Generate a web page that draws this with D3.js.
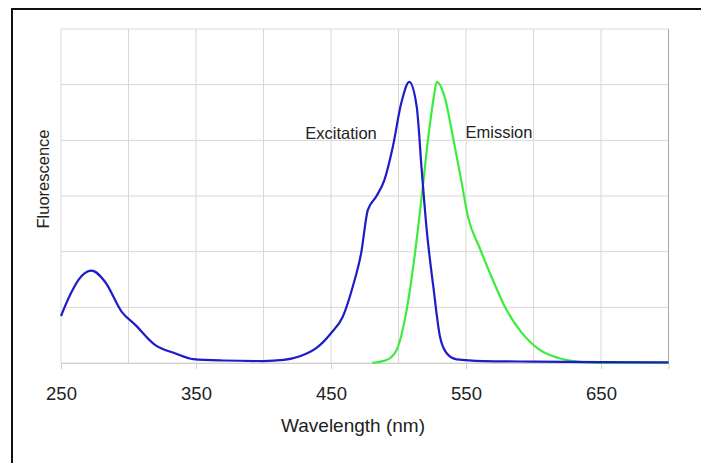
<!DOCTYPE html>
<html>
<head>
<meta charset="utf-8">
<script src="https://cdn.jsdelivr.net/npm/d3@7"></script>
<style>
  body { margin: 0; background: #fff; }
  text { font-family: "Liberation Sans", Arial, sans-serif; fill: #222; }
</style>
</head>
<body>
<div id="chart"></div>
<script>
// excitation spectrum (wavelength in nm, relative fluorescence)
var excitation_wl = [250, 256.7, 262.8, 272.7, 282.6, 295, 305, 319.6, 334.4, 348, 370, 400, 415, 427, 439, 450, 458.7, 466.1, 472.3, 477.3, 483.5, 489.6, 495.8, 502, 508, 513.5, 517.2, 520.9, 525.8, 530.7, 535.7, 543.1, 562.6, 600, 650, 700];
var excitation_val = [16.9, 24.4, 29.8, 33.2, 29.2, 18.4, 13.7, 6.5, 3.5, 1.4, 0.9, 0.7, 1.1, 2.4, 5.3, 10.7, 16.6, 27.4, 39.4, 55, 59.8, 65.8, 77.7, 93.3, 101, 92, 69.3, 47.8, 27.4, 9.5, 3.5, 1.3, 0.7, 0.5, 0.3, 0.2];

// emission spectrum
var emission_wl = [480.5, 491.2, 498.6, 506, 512.2, 517.2, 522.1, 525.8, 528.4, 534.1, 540.3, 546.4, 551.5, 560, 569.9, 578.5, 590.8, 604.4, 619.3, 634.1, 646.4, 670, 700];
var emission_val = [0.1, 1.1, 4.7, 19, 39.4, 59.8, 81.3, 94.5, 101, 95.7, 81.3, 65.8, 52.5, 41.5, 29.8, 20.5, 11.2, 4.8, 1.7, 0.4, 0, 0, 0];

var x_ticks = [250, 350, 450, 550, 650];

var width = 701,
    height = 463;

var plot = { left: 61, right: 668.5, top: 29, bottom: 363 };

var svg = d3.select("#chart")
  .append("svg")
    .attr("width", width)
    .attr("height", height);

// outer black frame (runs off the picture at right and bottom)
svg.append("rect")
  .attr("x", 12)
  .attr("y", 9)
  .attr("width", 720)
  .attr("height", 480)
  .attr("fill", "none")
  .attr("stroke", "#111")
  .attr("stroke-width", 2);

var x = d3.scaleLinear()
  .domain([250, 700])
  .range([plot.left, plot.right]);

var y = d3.scaleLinear()
  .domain([0, 120])
  .range([plot.bottom, plot.top]);

// grid lines
svg.append("g")
  .selectAll("line")
  .data(d3.range(250, 701, 50))
  .enter()
  .append("line")
    .attr("x1", function(d) { return x(d); })
    .attr("x2", function(d) { return x(d); })
    .attr("y1", plot.top)
    .attr("y2", plot.bottom)
    .attr("stroke", "#d8d8d8")
    .attr("stroke-width", 1);

svg.append("g")
  .selectAll("line")
  .data(d3.range(0, 121, 20))
  .enter()
  .append("line")
    .attr("x1", plot.left)
    .attr("x2", plot.right)
    .attr("y1", function(d) { return y(d); })
    .attr("y2", function(d) { return y(d); })
    .attr("stroke", "#d8d8d8")
    .attr("stroke-width", 1);

// right edge of plot area is darker
svg.append("line")
  .attr("x1", x(700)).attr("x2", x(700))
  .attr("y1", plot.top).attr("y2", plot.bottom)
  .attr("stroke", "#a8a8a8")
  .attr("stroke-width", 1);

// x axis: only small tick marks and labels
var xAxis = d3.axisBottom(x)
  .tickValues(x_ticks)
  .tickSize(6)
  .tickPadding(18)
  .tickFormat(d3.format("d"));

var gx = svg.append("g")
  .attr("transform", "translate(0," + plot.bottom + ")")
  .call(xAxis);
gx.select(".domain").attr("stroke", "#d0d0d0");
gx.selectAll(".tick line").attr("stroke", "#d0d0d0");
gx.selectAll(".tick text")
  .style("font-size", "18.5px")
  .style("font-family", "'Liberation Sans', Arial, sans-serif")
  .attr("fill", "#222");

// curves
var line = d3.line()
  .x(function(d) { return x(d[0]); })
  .y(function(d) { return y(d[1]); })
  .curve(d3.curveMonotoneX);

var emission = d3.zip(emission_wl, emission_val);
var excitation = d3.zip(excitation_wl, excitation_val);

svg.append("path")
  .attr("d", line(emission))
  .attr("fill", "none")
  .attr("stroke", "#3cec3c")
  .attr("stroke-width", 2.2);

svg.append("path")
  .attr("d", line(excitation))
  .attr("fill", "none")
  .attr("stroke", "#1c1cc8")
  .attr("stroke-width", 2.2);

// labels
svg.append("text")
  .attr("x", 341)
  .attr("y", 139)
  .attr("text-anchor", "middle")
  .style("font-size", "16.5px")
  .text("Excitation");

svg.append("text")
  .attr("x", 499)
  .attr("y", 138)
  .attr("text-anchor", "middle")
  .style("font-size", "16.5px")
  .text("Emission");

svg.append("text")
  .attr("x", 353)
  .attr("y", 432)
  .attr("text-anchor", "middle")
  .style("font-size", "19px")
  .text("Wavelength (nm)");

svg.append("text")
  .attr("transform", "translate(49,179) rotate(-90)")
  .attr("text-anchor", "middle")
  .style("font-size", "16.5px")
  .text("Fluorescence");
</script>
</body>
</html>
